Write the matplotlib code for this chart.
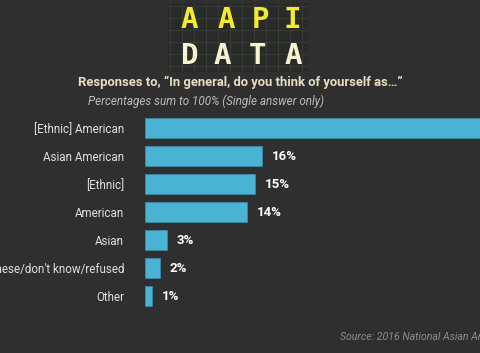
import matplotlib
matplotlib.use("Agg")
import matplotlib.pyplot as plt

categories = ["[Ethnic] American", "Asian American", "[Ethnic]", "American", "Asian",
              "Vietnamese/don't know/refused", "Other"]
values = [49, 16, 15, 14, 3, 2, 1]
title = "Responses to, \u201cIn general, do you think of yourself as\u2026\u201d"
subtitle = "Percentages sum to 100% (Single answer only)"
source = "Source: 2016 National Asian American Survey"

FONT = "Roboto"
BG = "#2f2f2f"
BAR = "#4bb3d3"
W, H = 480, 353
fig = plt.figure(figsize=(W / 100, H / 100), dpi=100, facecolor=BG)

def px(x0, y0, w, h):
    return [x0 / W, 1 - (y0 + h) / H, w / W, h / H]

# logo
lax = fig.add_axes(px(168, 3, 140, 69))
lax.set_facecolor("#292b29")
lax.set_xlim(0, 140)
lax.set_ylim(69, 0)
for g in range(0, 141, 12):
    lax.axvline(g + 2, color="#3a3e3a", lw=0.6)
for g in range(0, 70, 12):
    lax.axhline(g + 3, color="#3a3e3a", lw=0.6)
lax.set_xticks([]); lax.set_yticks([])
for s in lax.spines.values():
    s.set_visible(False)
for ch, x in zip("AAPI", [21, 58, 92, 124]):
    lax.text(x, 17, ch, color="#f2ec2c", fontsize=21, fontweight="bold",
             family="DejaVu Sans Mono", ha="center", va="center")
for ch, x in zip("DATA", [22, 54, 90, 125]):
    lax.text(x, 53, ch, color="#f7f3d0", fontsize=21, fontweight="bold",
             family="DejaVu Sans Mono", ha="center", va="center")

fig.text(240 / W, 1 - 82 / H, title, color="#e6dfc0", fontsize=9.4, fontweight="bold",
         family=FONT, ha="center", va="center")
fig.text(88 / W, 1 - 101 / H, subtitle, color="#bdbdbd", fontsize=8.4, style="italic",
         family=FONT, ha="left", va="center")

# bars
scale = 7.3
ax_left, ax_right = 145, 620
ax = fig.add_axes(px(ax_left, 114, ax_right - ax_left, 196))
ax.set_facecolor(BG)
ys = list(range(len(categories)))
ax.barh(ys, values, height=0.7, color=BAR, edgecolor="#3a8aa3", linewidth=0.6)
ax.set_xlim(0, (ax_right - ax_left) / scale)
ax.set_ylim(len(categories) - 0.5, -0.5)
for y, v in zip(ys, values):
    ax.text(v + 10 / scale, y, f"{v}%", color="white", fontsize=9.5, fontweight="bold",
            family=FONT, ha="left", va="center")
ax.set_yticks(ys)
ax.set_yticklabels(categories, color="#e0e0e0", fontsize=8.4, family=FONT)
ax.tick_params(axis="y", length=0, pad=15)
ax.set_xticks([])
for s in ax.spines.values():
    s.set_visible(False)

fig.text(340 / W, 1 - 337 / H, source, color="#8c8c8c", fontsize=7.6, style="italic",
         family=FONT, ha="left", va="center")

fig.savefig("out.png", dpi=100, facecolor=BG)
